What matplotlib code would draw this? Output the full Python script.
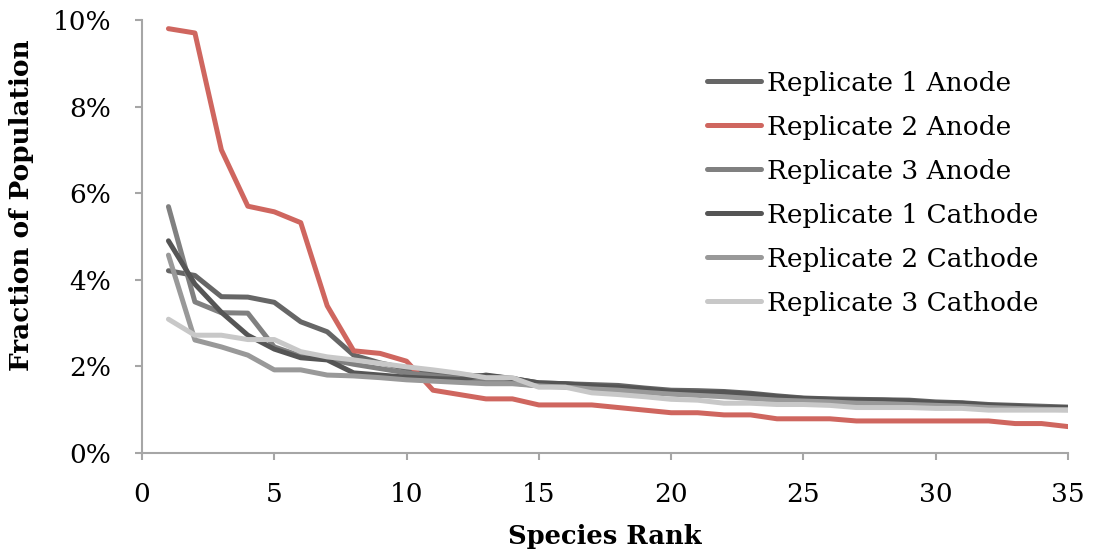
import matplotlib
matplotlib.use("Agg")
import matplotlib.pyplot as plt
from matplotlib.ticker import FuncFormatter, MultipleLocator

ranks = list(range(1, 36))

rep1_anode = [4.21, 4.10, 3.61, 3.60, 3.48, 3.03, 2.80, 2.26, 2.08, 1.95, 1.85, 1.80, 1.78, 1.72, 1.62,
              1.60, 1.58, 1.56, 1.50, 1.45, 1.44, 1.42, 1.38, 1.32, 1.27, 1.25, 1.24, 1.23, 1.22, 1.18,
              1.16, 1.12, 1.10, 1.08, 1.06]
rep2_anode = [9.80, 9.70, 7.00, 5.70, 5.57, 5.32, 3.40, 2.36, 2.30, 2.12, 1.45, 1.35, 1.25, 1.25, 1.11,
              1.11, 1.11, 1.05, 0.99, 0.93, 0.93, 0.88, 0.88, 0.79, 0.79, 0.79, 0.74, 0.74, 0.74, 0.74,
              0.74, 0.74, 0.68, 0.68, 0.61]
rep3_anode = [5.69, 3.49, 3.24, 3.23, 2.45, 2.24, 2.17, 2.05, 1.95, 1.85, 1.78, 1.72, 1.65, 1.62, 1.55,
              1.55, 1.50, 1.47, 1.42, 1.38, 1.35, 1.32, 1.28, 1.25, 1.22, 1.20, 1.18, 1.16, 1.15, 1.12,
              1.10, 1.07, 1.05, 1.03, 1.02]
rep1_cathode = [4.90, 3.90, 3.25, 2.72, 2.40, 2.20, 2.15, 1.85, 1.80, 1.75, 1.72, 1.70, 1.80, 1.72, 1.62,
                1.60, 1.55, 1.52, 1.48, 1.42, 1.40, 1.40, 1.36, 1.30, 1.26, 1.24, 1.22, 1.22, 1.20, 1.16,
                1.15, 1.10, 1.08, 1.05, 1.05]
rep2_cathode = [4.57, 2.61, 2.45, 2.26, 1.92, 1.92, 1.80, 1.78, 1.74, 1.69, 1.66, 1.63, 1.60, 1.60, 1.55,
                1.52, 1.48, 1.45, 1.40, 1.36, 1.33, 1.30, 1.26, 1.22, 1.20, 1.18, 1.15, 1.14, 1.12, 1.10,
                1.08, 1.05, 1.03, 1.01, 1.00]
rep3_cathode = [3.09, 2.72, 2.72, 2.62, 2.62, 2.34, 2.22, 2.15, 2.07, 1.99, 1.92, 1.84, 1.74, 1.74, 1.52,
                1.52, 1.39, 1.35, 1.30, 1.24, 1.22, 1.15, 1.15, 1.12, 1.12, 1.10, 1.05, 1.05, 1.05, 1.03,
                1.03, 0.99, 0.99, 0.99, 0.99]

series = [
    ("Replicate 1 Anode", rep1_anode, "#666666"),
    ("Replicate 2 Anode", rep2_anode, "#CF665F"),
    ("Replicate 3 Anode", rep3_anode, "#808080"),
    ("Replicate 1 Cathode", rep1_cathode, "#555555"),
    ("Replicate 2 Cathode", rep2_cathode, "#999999"),
    ("Replicate 3 Cathode", rep3_cathode, "#C8C8C8"),
]

plt.rcParams['font.family'] = ['DejaVu Serif']

fig = plt.figure(figsize=(10.94, 5.59), dpi=100)
ax = fig.add_axes([142/1094, 1-453/559, (1068-142)/1094, (453-20)/559])

for name, vals, col in series:
    ax.plot(ranks, vals, color=col, lw=3.6, solid_capstyle='round', solid_joinstyle='round', label=name)

ax.set_xlim(0, 35)
ax.set_ylim(0, 10)
ax.xaxis.set_major_locator(MultipleLocator(5))
ax.yaxis.set_major_locator(MultipleLocator(2))
ax.yaxis.set_major_formatter(FuncFormatter(lambda v, p: f"{int(round(v))}%"))

for s in ['top', 'right']:
    ax.spines[s].set_visible(False)
for s in ['left', 'bottom']:
    ax.spines[s].set_color('#A6A6A6')
    ax.spines[s].set_linewidth(1.5)
ax.tick_params(axis='both', direction='out', length=5, width=1.5, color='#A6A6A6',
               labelsize=19, labelcolor='black')
ax.tick_params(axis='y', pad=17)
ax.tick_params(axis='x', pad=16)

ax.set_xlabel("Species Rank", fontsize=18.5, fontweight='bold', labelpad=12)
fig.text(22/1094, 1-205/559, "Fraction of Population", rotation=90, fontsize=19,
         fontweight='bold', ha='center', va='center')

leg = ax.legend(loc='upper left', bbox_to_anchor=((696-142)/926, 1-(60-20)/433),
                frameon=False, fontsize=19, handlelength=2.05, handletextpad=0.25,
                labelspacing=0.72, borderaxespad=0)

fig.savefig("out.png", dpi=100)
